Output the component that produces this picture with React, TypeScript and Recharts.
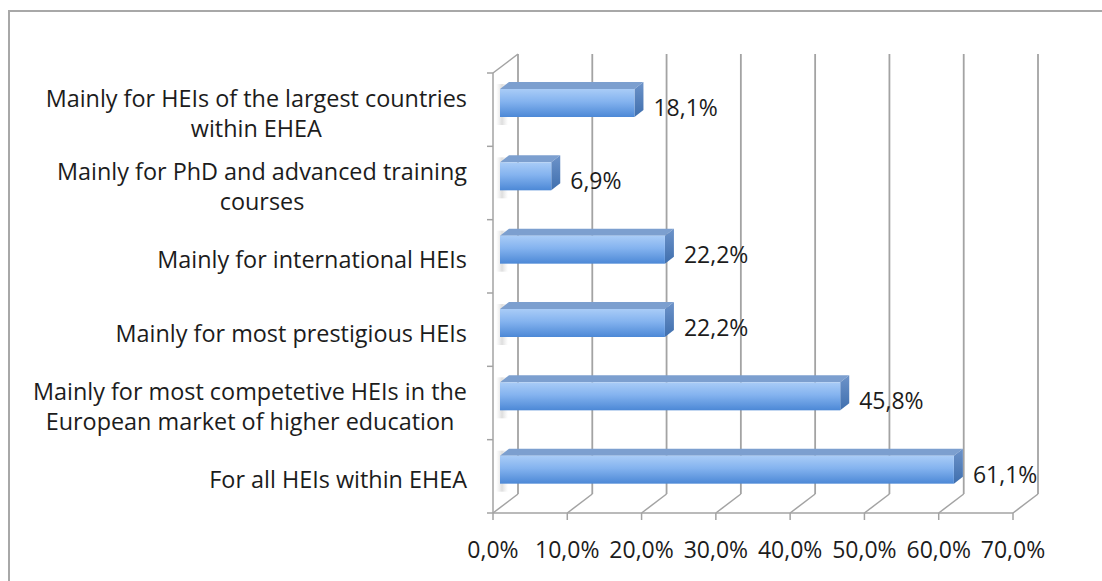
import React from 'react';
import { BarChart, Bar, XAxis, YAxis, CartesianGrid, LabelList } from 'recharts';

// category labels, one entry per line of the wrapped label
const categories = [
  ['Mainly for HEIs of the largest countries', 'within EHEA'],
  ['Mainly for PhD and advanced training', 'courses'],
  ['Mainly for international HEIs'],
  ['Mainly for most prestigious HEIs'],
  ['Mainly for most competetive HEIs in the', 'European market of higher education'],
  ['For all HEIs within EHEA'],
];
const shares = [18.1, 6.9, 22.2, 22.2, 45.8, 61.1];
const xTicks = [0, 10, 20, 30, 40, 50, 60, 70];

const data = categories.map((lines, i) => ({ name: lines.join('\n'), value: shares[i] }));

const FONT = '"Open Sans", "Noto Sans", sans-serif';
const FS = 23.4;
const NUM_FS = 23;
const GRID = '#a3a3a3';
const TEXT = '#1c1c1c';

// 3d depth of the walls and of the bars
const DX = 25;
const DY = 19;
const OX = 7;
const OY = 7;
const BDX = 9;
const BDY = 7;

const pct = (v: number) => v.toFixed(1).replace('.', ',') + '%';

let ctx: CanvasRenderingContext2D | null = null;
const textWidth = (s: string) => {
  if (!ctx) ctx = document.createElement('canvas').getContext('2d');
  if (!ctx) return s.length * 10.5;
  ctx.font = `${FS}px ${FONT}`;
  return ctx.measureText(s).width;
};

const YTick = (props: any) => {
  const { x, y, payload, index, visibleTicksCount } = props;
  const lines: string[] = String(payload.value).split('\n');
  const band = 440 / 6;
  const right = x - 26;
  const maxW = Math.max(...lines.map(textWidth));
  const cx = right - maxW / 2;
  const offs = lines.length > 1 ? [-3, 27] : [12];
  return (
    <g>
      <line x1={x - 6} y1={y - band / 2} x2={x} y2={y - band / 2} stroke={GRID} strokeWidth={1.5} />
      {index === visibleTicksCount - 1 && (
        <line x1={x - 6} y1={y + band / 2} x2={x} y2={y + band / 2} stroke={GRID} strokeWidth={1.5} />
      )}
      {lines.map((l, i) => (
        <text key={i} x={cx} y={y + offs[i]} textAnchor="middle" fontSize={FS} fontFamily={FONT} fill={TEXT}>
          {l}
        </text>
      ))}
    </g>
  );
};

const XTick = (props: any) => {
  const { x, y, payload } = props;
  return (
    <text x={x} y={y + 36} textAnchor="middle" fontSize={NUM_FS} fontFamily={FONT} fill={TEXT}>
      {pct(payload.value)}
    </text>
  );
};

const gridLine = (p: any) => (
  <g key={`g-${p.index}-${p.x1}`}>
    <line x1={p.x1 + DX} y1={p.y1 - DY} x2={p.x2 + DX} y2={p.y2 - DY} stroke={GRID} strokeWidth={1.8} />
    <line x1={p.x2 + DX} y1={p.y2 - DY} x2={p.x2} y2={p.y2} stroke={GRID} strokeWidth={1.5} />
    {p.index === 0 && <line x1={p.x1} y1={p.y1} x2={p.x1 + DX} y2={p.y1 - DY} stroke={GRID} strokeWidth={1.5} />}
  </g>
);

const Bar3D = (props: any) => {
  const { x, y, width, height } = props;
  const fx = x + OX;
  const fy = y - OY;
  return (
    <g>
      <rect x={x + 3} y={fy - BDY + 2} width={12} height={height + BDY + 6} fill="url(#wallShadow)" />
      <polygon
        points={`${fx},${fy} ${fx + width},${fy} ${fx + width + BDX},${fy - BDY} ${fx + BDX},${fy - BDY}`}
        fill="#7c9fcf"
      />
      <polygon
        points={`${fx + width},${fy} ${fx + width + BDX},${fy - BDY} ${fx + width + BDX},${fy + height - BDY} ${fx + width},${fy + height}`}
        fill="url(#sideFace)"
      />
      <rect x={fx} y={fy} width={width} height={height} fill="url(#frontFace)" />
    </g>
  );
};

const ValueLabel = (props: any) => {
  const { x, y, width, height, value } = props;
  return (
    <text
      x={x + width + OX + BDX + 10}
      y={y + height / 2 - OY + 13}
      fontSize={NUM_FS}
      fontFamily={FONT}
      fill={TEXT}
    >
      {pct(value)}
    </text>
  );
};

export default function App() {
  return (
    <div style={{ position: 'absolute', left: 0, top: 0, width: 1102, height: 581, overflow: 'hidden', background: '#fff' }}>
      <div
        style={{
          position: 'absolute',
          left: 8,
          top: 10,
          width: 1300,
          height: 800,
          border: '2px solid #a8a8a8',
        }}
      />
      <div style={{ position: 'absolute', left: 0, top: 0 }}>
        <BarChart
          width={1102}
          height={581}
          data={data}
          layout="vertical"
          barSize={28}
          margin={{ top: 73, right: 89, bottom: 28, left: 0 }}
        >
          <defs>
            <linearGradient id="frontFace" x1="0" y1="0" x2="0" y2="1">
              <stop offset="0%" stopColor="#a9ccf7" />
              <stop offset="45%" stopColor="#84b3ef" />
              <stop offset="100%" stopColor="#4c88d6" />
            </linearGradient>
            <linearGradient id="sideFace" x1="0" y1="0" x2="0" y2="1">
              <stop offset="0%" stopColor="#6d93c9" />
              <stop offset="100%" stopColor="#3f6fae" />
            </linearGradient>
            <linearGradient id="wallShadow" x1="0" y1="0" x2="1" y2="0">
              <stop offset="0%" stopColor="#b0b0b0" stopOpacity={0} />
              <stop offset="50%" stopColor="#909090" stopOpacity={0.3} />
              <stop offset="100%" stopColor="#b0b0b0" stopOpacity={0} />
            </linearGradient>
          </defs>
          <CartesianGrid horizontal={false} vertical={gridLine} />
          <XAxis
            type="number"
            domain={[0, 70]}
            ticks={xTicks}
            interval={0}
            height={40}
            tickSize={7}
            axisLine={{ stroke: GRID, strokeWidth: 1.5 }}
            tickLine={{ stroke: GRID, strokeWidth: 1.5 }}
            tick={<XTick />}
          />
          <YAxis
            type="category"
            dataKey="name"
            width={493}
            tickSize={0}
            tickMargin={0}
            interval={0}
            axisLine={{ stroke: GRID, strokeWidth: 1.5 }}
            tickLine={false}
            tick={<YTick />}
          />
          <Bar dataKey="value" shape={<Bar3D />} isAnimationActive={false}>
            <LabelList dataKey="value" content={<ValueLabel />} />
          </Bar>
        </BarChart>
      </div>
    </div>
  );
}
